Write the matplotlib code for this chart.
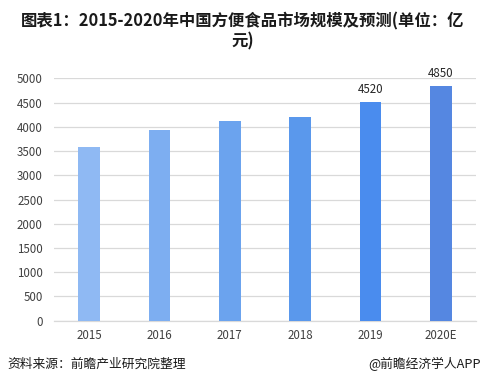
import matplotlib
matplotlib.use("Agg")
import matplotlib.pyplot as plt

plt.rcParams['font.family'] = ['Noto Sans CJK SC', 'DejaVu Sans']

years = ["2015", "2016", "2017", "2018", "2019", "2020E"]
values = [3580, 3930, 4120, 4200, 4520, 4850]
colors = ["#8FB9F3", "#7DAEF1", "#6BA3EE", "#5A98EC", "#4A8CEE", "#5587E1"]
labeled = [False, False, False, False, True, True]
yticks = list(range(0, 5001, 500))

title = "图表1：2015-2020年中国方便食品市场规模及预测(单位：亿\n元)"
source = "资料来源：前瞻产业研究院整理"
brand = "@前瞻经济学人APP"

fig = plt.figure(figsize=(4.85, 3.86), dpi=100)
ax = fig.add_axes([0.1113, 0.1692, 0.8701, 0.6278])

x = range(len(years))
bars = ax.bar(x, values, width=0.31, color=colors, zorder=3)
for b, v, show in zip(bars, values, labeled):
    if show:
        ax.annotate(str(v), (b.get_x() + b.get_width() / 2, v),
                    xytext=(0, 4), textcoords="offset points",
                    ha="center", va="bottom", fontsize=8.3, color="#262626")

ax.set_xlim(-0.5, len(years) - 0.5)
ax.set_ylim(0, 5000)
ax.set_yticks(yticks)
ax.set_xticks(list(x))
ax.set_xticklabels(years)
ax.tick_params(axis="both", length=0, labelsize=8.3, colors="#404040")
ax.tick_params(axis="y", pad=8)
ax.tick_params(axis="x", pad=6)
ax.grid(axis="y", color="#D9D9D9", linewidth=0.9, zorder=0)
for s in ["top", "right", "left"]:
    ax.spines[s].set_visible(False)
ax.spines["bottom"].set_color("#D9D9D9")
ax.spines["bottom"].set_linewidth(0.9)

fig.text(0.5, 0.968, title, ha="center", va="top", fontsize=11.8,
         fontweight="bold", color="#1a1a1a", linespacing=1.12)
fig.text(0.016, 0.057, source, ha="left", va="center", fontsize=9.2, color="#1a1a1a")
fig.text(0.992, 0.057, brand, ha="right", va="center", fontsize=9.2, color="#1a1a1a")

fig.savefig("out.png", dpi=100)
